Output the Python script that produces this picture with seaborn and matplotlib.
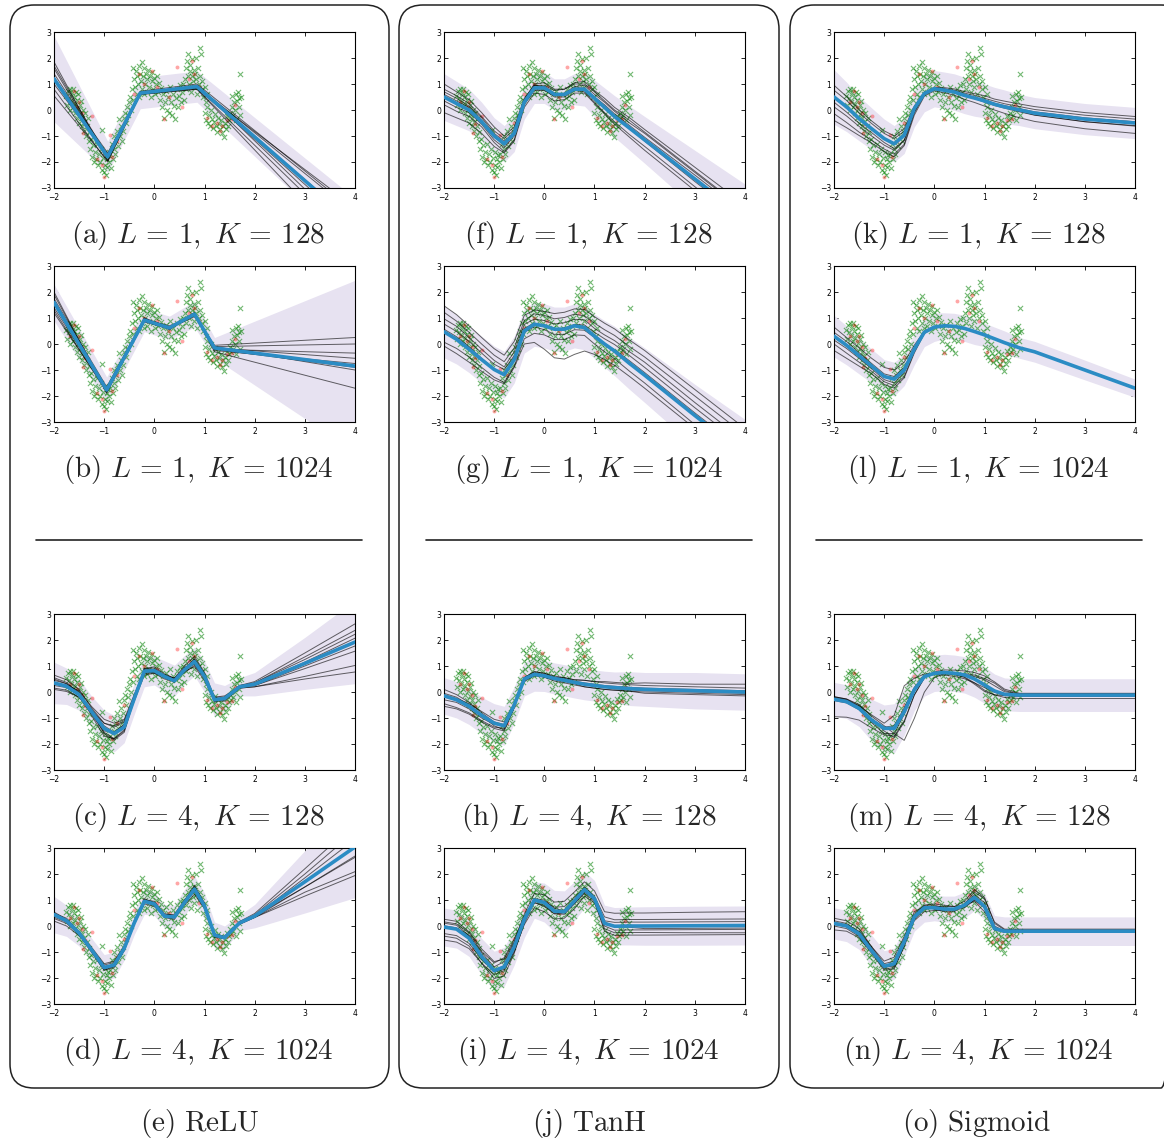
import numpy as np
import pandas as pd
import matplotlib
matplotlib.use("Agg")
import matplotlib.pyplot as plt
from matplotlib.patches import FancyBboxPatch
import seaborn as sns

# ---- observations (the same in every panel) ----
green_pts = [
    (-1.76, 0.55), (-1.74, 0.2), (-1.72, 0.75), (-1.70, 0.45), (-1.69, 0.0), (-1.68, 0.8),
    (-1.66, 0.3), (-1.65, 0.65), (-1.63, 0.1), (-1.62, 0.8), (-1.60, 0.5), (-1.59, -0.1),
    (-1.58, 0.25), (-1.57, 0.7), (-1.55, 0.4), (-1.54, -0.3), (-1.53, 0.05), (-1.52, 0.6),
    (-1.50, -0.5), (-1.49, 0.2), (-1.48, -0.15), (-1.46, 0.35), (-1.45, -0.6), (-1.44, -0.3),
    (-1.42, 0.0), (-1.41, -0.8), (-1.40, -0.45), (-1.38, -0.1), (-1.37, -1.0), (-1.35, -0.6),
    (-1.33, -0.3), (-1.31, -1.2), (-1.30, -0.85),
    (-1.28, -1.5), (-1.26, -1.1), (-1.24, -1.8), (-1.22, -1.35), (-1.20, -2.0), (-1.18, -1.6),
    (-1.16, -1.9), (-1.14, -1.3), (-1.12, -2.1), (-1.10, -1.7), (-1.08, -2.0), (-1.06, -1.5),
    (-1.04, -2.3), (-1.02, -1.85), (-1.00, -2.4), (-0.99, -2.1), (-0.98, -1.6), (-0.97, -2.5),
    (-0.95, -1.9), (-0.94, -2.2), (-0.92, -1.75), (-0.90, -2.0), (-1.05, -0.77),
    (-0.88, -1.7), (-0.86, -2.25), (-0.85, -1.3), (-0.83, -1.9), (-0.81, -1.5), (-0.80, -1.0),
    (-0.78, -1.7), (-0.76, -1.2), (-0.74, -0.8), (-0.72, -1.4), (-0.70, -0.35), (-0.68, -1.0),
    (-0.66, -0.6), (-0.64, -1.2), (-0.62, -0.8), (-0.60, -0.3), (-0.58, -0.1), (-0.56, -0.5),
    (-0.54, 0.1), (-0.52, -0.2), (-0.50, 0.3), (-0.48, 0.5), (-0.46, 0.0),
    (-0.44, 0.8), (-0.43, 1.6), (-0.42, 0.4), (-0.40, 1.2), (-0.38, 0.9), (-0.37, 1.5),
    (-0.35, 0.6), (-0.34, 1.3), (-0.32, 1.0), (-0.31, 1.7), (-0.30, 0.5), (-0.28, 1.4),
    (-0.27, 1.1), (-0.25, 0.8), (-0.24, 1.85), (-0.22, 1.3), (-0.21, 0.6), (-0.20, 1.6),
    (-0.18, 1.0), (-0.17, 1.4), (-0.15, 0.7), (-0.14, 1.2), (-0.12, 1.55), (-0.10, 0.9),
    (-0.09, 1.3), (-0.07, 0.5), (-0.05, 1.1), (-0.04, 1.45), (-0.02, 0.8), (0.00, 1.25),
    (0.02, 0.6), (0.04, 1.0), (0.06, 1.3), (0.08, 0.7), (0.10, 1.05),
    (0.12, 0.4), (0.14, 0.85), (0.16, 0.1), (0.18, 0.6), (0.20, -0.3), (0.22, 0.3),
    (0.24, 0.75), (0.26, 0.0), (0.28, 0.5), (0.30, -0.1), (0.32, 0.9), (0.34, 0.3),
    (0.36, -0.2), (0.38, 0.6), (0.40, 0.15), (0.42, -0.35), (0.44, 0.45), (0.46, 0.8),
    (0.48, 0.1), (0.50, 0.55), (0.52, 0.95), (0.54, 0.3), (0.56, 0.7), (0.58, 1.0), (0.60, 0.4),
    (0.62, 1.2), (0.63, 1.6), (0.64, 0.8), (0.66, 1.9), (0.67, 1.3), (0.68, 2.15),
    (0.70, 1.0), (0.71, 1.5), (0.72, 1.75), (0.74, 0.7), (0.75, 1.3), (0.76, 1.95),
    (0.78, 1.1), (0.79, 1.55), (0.80, 0.9), (0.82, 1.4), (0.83, 2.0), (0.84, 1.2),
    (0.86, 0.6), (0.88, 1.6), (0.90, 1.0), (0.91, 2.4), (0.92, 1.3), (0.93, 2.15),
    (0.95, 0.8), (0.96, 1.1), (0.98, 0.5), (1.00, 0.9), (1.02, 0.3), (1.04, 0.6),
    (1.00, -0.1), (1.02, -0.4), (1.04, 0.1), (1.06, -0.5), (1.08, -0.2), (1.10, -0.6),
    (1.12, 0.0), (1.14, -0.35), (1.16, -0.7), (1.18, -0.45), (1.20, -0.15), (1.22, -0.6),
    (1.24, -0.85), (1.26, -0.3), (1.28, -0.55), (1.30, -0.75), (1.32, -0.4), (1.34, -0.9),
    (1.36, -0.6), (1.38, -1.05), (1.40, -0.5), (1.42, -0.75), (1.44, -0.25), (1.46, -0.6),
    (1.48, -0.4), (1.50, -0.1),
    (1.52, -0.3), (1.54, 0.1), (1.55, 0.55), (1.57, -0.2), (1.58, 0.3), (1.60, 0.0),
    (1.62, 0.6), (1.63, -0.4), (1.65, 0.35), (1.66, 0.7), (1.68, 0.1), (1.69, 0.45),
    (1.70, -0.2), (1.71, 1.37), (1.72, 0.5),
]
red_pts = [
    (-1.68, 0.3), (-1.60, 0.75), (-1.55, 0.1), (-1.50, 0.3), (-1.45, -0.1), (-1.38, -0.55),
    (-1.24, -0.22), (-1.42, -0.9), (-1.15, -1.9), (-1.05, -2.1), (-1.00, -2.58), (-0.85, -1.8),
    (-0.88, -0.95), (-0.75, -1.2), (-0.60, -0.5), (-0.40, 0.6), (-0.30, 1.4), (-0.20, 1.0),
    (-0.05, 1.5), (0.05, 0.9), (0.20, -0.35), (0.30, 0.5), (0.45, 1.65), (0.55, 0.1),
    (0.70, 1.2), (0.75, 1.9), (0.80, 1.4), (0.90, 0.9), (1.05, -0.3), (1.15, -0.6),
    (1.25, -0.5), (1.30, -0.8), (1.35, -0.6), (1.45, -0.4), (1.55, -0.35), (1.60, 0.2),
]

# ---- x knots of the curves ----
grid = [-2, -1.75, -1.5, -1.25, -1.0, -0.8, -0.6, -0.4, -0.2, 0.0, 0.2,
        0.4, 0.6, 0.8, 1.0, 1.2, 1.4, 1.7, 2.0, 3.0, 4.0]
grid_a = [-2, -0.93, -0.28, 0.85, 4]
grid_b = [-2, -0.95, -0.2, 0.3, 0.8, 1.2, 4]

# ---- ReLU ----
mean_a = [1.2, -1.8, 0.65, 0.9, -4.4]
band_a = [1.65, 0.6, 0.6, 0.6, 1.0]
dev_a = [
    [0.65, -0.15, -0.03, -0.05, 0.65],
    [0.4, -0.05, 0.03, 0.02, 0.4],
    [0.2, 0.05, 0.05, -0.08, 0.1],
    [-0.2, 0.1, 0.01, -0.02, -0.2],
    [-0.65, -0.15, -0.05, -0.1, -1.2],
    [-0.4, -0.2, -0.01, 0.05, -0.5],
    [0.5, 0.0, 0.07, 0.1, 0.5],
    [0.05, 0.15, -0.05, -0.1, -0.7],
]

mean_b = [1.6, -1.77, 0.92, 0.62, 1.15, -0.15, -0.85]
band_b = [0.7, 0.5, 0.45, 0.45, 0.5, 0.4, 3.3]
dev_b = [
    [0.3, -0.05, -0.05, -0.05, -0.05, 0.1, 1.1],
    [0.0, 0.07, 0.08, 0.03, 0.05, 0.05, 0.85],
    [-0.3, -0.08, -0.02, -0.02, 0.0, -0.05, 0.5],
    [0.15, 0.12, 0.03, 0.08, -0.05, 0.0, 0.3],
    [-0.2, 0.02, 0.08, -0.07, 0.05, -0.1, 0.1],
    [-0.4, -0.03, -0.07, -0.02, -0.1, 0.05, -0.15],
    [-0.05, 0.07, 0.03, 0.03, 0.0, -0.15, -0.85],
    [0.4, -0.13, 0.03, -0.02, 0.05, -0.05, -0.05],
]

mean_c = [0.35, 0.22, -0.1, -0.76, -1.4, -1.6, -1.35, -0.25, 0.8, 0.82, 0.6,
          0.43, 0.85, 1.17, 0.6, -0.3, -0.25, 0.2, 0.3, 1.1, 1.92]
band_c = [0.8, 0.7, 0.6, 0.6, 0.7, 0.7, 0.6, 0.6, 0.6, 0.55, 0.6,
          0.6, 0.55, 0.55, 0.6, 0.65, 0.5, 0.35, 0.45, 1.0, 1.6]
dev_c = [
    [0.3, 0.25, 0.2, 0.15, 0.2, 0.25, 0.2, 0.1, 0.1, 0.15, 0.1, 0.1, 0.15, 0.2, 0.15, 0.1, 0.05, 0.05, 0.1, 0.4, 0.7],
    [0.2, 0.15, 0.05, -0.1, -0.15, -0.2, -0.1, 0.05, 0.05, 0.0, 0.05, 0.1, 0.05, 0.0, 0.05, 0.0, 0.05, 0.05, 0.05, 0.25, 0.45],
    [-0.2, -0.15, -0.1, 0.05, 0.2, 0.3, 0.25, 0.0, -0.1, -0.05, 0.0, 0.05, -0.1, -0.15, -0.05, 0.05, 0.0, 0.0, 0.05, 0.15, 0.3],
    [0.1, 0.1, 0.1, 0.0, -0.2, -0.25, -0.2, -0.05, 0.05, 0.05, -0.05, -0.05, 0.0, 0.1, 0.1, -0.05, -0.05, 0.0, 0.0, 0.05, 0.15],
    [-0.1, -0.05, 0.0, 0.1, 0.1, 0.05, 0.1, 0.1, -0.05, -0.1, -0.1, 0.0, 0.1, -0.05, -0.1, -0.1, 0.05, 0.0, -0.05, -0.1, -0.15],
    [0.0, 0.05, 0.15, 0.2, 0.35, 0.4, 0.3, 0.15, 0.0, -0.05, 0.05, 0.1, 0.0, -0.1, 0.0, 0.1, 0.1, 0.0, -0.05, -0.2, -0.35],
    [-0.25, -0.2, -0.1, -0.05, -0.1, 0.05, 0.1, -0.1, -0.15, -0.1, 0.0, 0.05, -0.05, -0.2, -0.15, 0.0, -0.05, -0.05, -0.1, -0.5, -0.9],
    [0.15, 0.1, 0.0, -0.15, -0.3, -0.2, -0.15, 0.0, 0.1, 0.1, 0.05, -0.05, 0.05, 0.1, 0.05, -0.05, -0.1, -0.05, -0.1, -0.6, -1.15],
]

mean_d = [0.44, 0.2, -0.27, -0.92, -1.6, -1.5, -0.86, 0.12, 0.95, 0.85, 0.38,
          0.35, 0.9, 1.42, 0.77, -0.35, -0.45, 0.12, 0.38, 1.7, 3.04]
band_d = [0.7, 0.6, 0.5, 0.45, 0.5, 0.5, 0.45, 0.45, 0.5, 0.45, 0.45,
          0.45, 0.5, 0.5, 0.5, 0.5, 0.45, 0.3, 0.45, 1.2, 1.95]
dev_d = [
    [0.1, 0.05, 0.0, 0.05, 0.1, 0.1, 0.05, 0.0, 0.05, 0.1, 0.1, 0.05, 0.05, 0.15, 0.1, 0.05, 0.0, 0.05, 0.1, 0.5, 0.9],
    [-0.25, -0.2, -0.1, 0.0, 0.05, 0.0, -0.05, 0.05, 0.0, -0.05, 0.0, 0.05, 0.0, -0.1, -0.05, 0.0, 0.05, 0.0, -0.05, -0.55, -1.1],
    [0.05, 0.1, 0.05, -0.05, -0.1, -0.1, 0.0, 0.05, 0.1, 0.05, -0.05, -0.05, 0.05, 0.1, 0.0, -0.05, -0.05, 0.0, 0.05, 0.3, 0.6],
    [-0.1, -0.05, 0.0, 0.05, 0.0, -0.05, -0.1, -0.05, -0.1, -0.1, 0.0, 0.0, -0.1, -0.2, -0.1, 0.05, 0.0, -0.05, -0.05, -0.2, -0.4],
    [0.0, 0.0, 0.05, 0.1, 0.15, 0.15, 0.1, 0.0, -0.05, 0.0, 0.05, 0.1, 0.1, 0.0, -0.05, -0.1, 0.0, 0.05, 0.0, 0.15, 0.3],
    [-0.15, -0.1, -0.05, 0.0, -0.05, -0.05, 0.0, 0.0, 0.05, 0.05, -0.05, -0.1, -0.05, 0.05, 0.1, 0.05, 0.05, -0.05, -0.05, -0.4, -0.95],
    [0.05, 0.0, -0.05, -0.1, -0.1, -0.05, 0.05, 0.1, 0.0, -0.05, 0.0, 0.05, 0.0, -0.05, -0.1, -0.05, 0.05, 0.05, 0.0, -0.2, -0.35],
]

# ---- TanH ----
mean_f = [0.5, 0.25, 0.0, -0.45, -1.0, -1.3, -0.9, 0.3, 0.85, 0.85, 0.6,
          0.6, 0.8, 0.8, 0.45, 0.1, -0.25, -0.7, -1.15, -2.65, -4.15]
band_f = [0.9, 0.85, 0.8, 0.75, 0.7, 0.7, 0.7, 0.65, 0.6, 0.6, 0.6,
          0.6, 0.6, 0.65, 0.7, 0.75, 0.8, 0.85, 0.9, 1.1, 1.3]
dev_f = [
    [0.5, 0.45, 0.4, 0.35, 0.35, 0.3, 0.25, 0.15, 0.1, 0.1, 0.15, 0.2, 0.25, 0.3, 0.3, 0.35, 0.35, 0.4, 0.4, 0.45, 0.5],
    [0.3, 0.3, 0.25, 0.2, 0.2, 0.2, 0.15, 0.1, 0.15, 0.2, 0.2, 0.2, 0.2, 0.2, 0.25, 0.25, 0.25, 0.3, 0.3, 0.3, 0.3],
    [-0.3, -0.3, -0.25, -0.2, -0.25, -0.3, -0.25, -0.1, -0.05, -0.05, -0.1, -0.1, -0.05, -0.1, -0.15, -0.2, -0.2, -0.25, -0.25, -0.3, -0.3],
    [-0.6, -0.55, -0.5, -0.45, -0.4, -0.35, -0.3, -0.2, -0.2, -0.25, -0.25, -0.2, -0.15, -0.15, -0.2, -0.25, -0.3, -0.35, -0.4, -0.45, -0.5],
    [0.1, 0.1, 0.1, 0.05, 0.0, -0.05, 0.0, 0.05, 0.1, 0.05, 0.0, 0.0, 0.05, 0.05, 0.05, 0.1, 0.1, 0.1, 0.1, 0.15, 0.15],
    [-0.15, -0.15, -0.1, -0.1, -0.15, -0.15, -0.1, 0.0, 0.0, 0.05, 0.05, 0.0, -0.05, 0.0, 0.05, 0.05, 0.0, 0.0, -0.05, -0.1, -0.1],
    [0.2, 0.2, 0.15, 0.15, 0.1, 0.1, 0.05, -0.05, -0.1, -0.1, -0.05, 0.05, 0.1, 0.15, 0.15, 0.2, 0.2, 0.2, 0.25, 0.25, 0.25],
]

mean_g = [0.47, 0.18, -0.2, -0.6, -0.98, -1.18, -0.6, 0.5, 0.76, 0.7, 0.57,
          0.57, 0.7, 0.63, 0.3, 0.0, -0.27, -0.75, -1.2, -2.75, -4.25]
band_g = [1.0, 0.95, 0.9, 0.9, 0.9, 0.9, 0.9, 0.85, 0.85, 0.85, 0.85,
          0.85, 0.85, 0.85, 0.85, 0.9, 0.95, 1.0, 1.05, 1.2, 1.35]
dev_g = [
    [1.0, 0.95, 0.9, 0.85, 0.8, 0.75, 0.7, 0.6, 0.55, 0.55, 0.6, 0.65, 0.65, 0.7, 0.75, 0.8, 0.85, 0.9, 0.95, 1.0, 1.0],
    [0.75, 0.7, 0.65, 0.6, 0.55, 0.5, 0.45, 0.4, 0.4, 0.4, 0.4, 0.45, 0.45, 0.45, 0.5, 0.55, 0.6, 0.65, 0.7, 0.75, 0.75],
    [0.5, 0.5, 0.45, 0.4, 0.35, 0.3, 0.3, 0.25, 0.2, 0.2, 0.2, 0.25, 0.25, 0.3, 0.3, 0.35, 0.4, 0.45, 0.5, 0.5, 0.5],
    [0.3, 0.3, 0.3, 0.25, 0.2, 0.2, 0.15, 0.1, 0.05, 0.0, 0.0, 0.05, 0.05, 0.1, 0.15, 0.2, 0.25, 0.3, 0.3, 0.3, 0.3],
    [0.1, 0.1, 0.1, 0.05, 0.0, 0.0, 0.0, -0.05, -0.1, -0.15, -0.2, -0.2, -0.15, -0.1, -0.05, 0.0, 0.05, 0.1, 0.1, 0.1, 0.1],
    [-0.4, -0.35, -0.3, -0.3, -0.3, -0.3, -0.25, -0.3, -0.35, -0.35, -0.4, -0.4, -0.35, -0.3, -0.3, -0.3, -0.3, -0.3, -0.3, -0.35, -0.4],
    [-0.55, -0.55, -0.5, -0.45, -0.4, -0.35, -0.3, -0.5, -0.7, -0.9, -1.1, -1.15, -1.1, -0.9, -0.7, -0.6, -0.55, -0.5, -0.5, -0.5, -0.5],
]

mean_h = [-0.15, -0.3, -0.55, -0.9, -1.2, -1.3, -0.5, 0.5, 0.68, 0.62, 0.52,
          0.45, 0.37, 0.3, 0.25, 0.2, 0.17, 0.13, 0.1, 0.05, 0.0]
band_h = [0.7, 0.7, 0.7, 0.7, 0.75, 0.75, 0.7, 0.65, 0.65, 0.6, 0.6,
          0.6, 0.6, 0.6, 0.6, 0.6, 0.6, 0.65, 0.65, 0.7, 0.7]
dev_h = [
    [0.25, 0.2, 0.15, 0.1, 0.05, 0.05, 0.1, 0.05, 0.05, 0.05, 0.05, 0.1, 0.1, 0.15, 0.15, 0.2, 0.2, 0.2, 0.25, 0.25, 0.3],
    [-0.3, -0.3, -0.25, -0.2, -0.15, -0.1, -0.1, 0.0, 0.0, -0.05, -0.05, -0.05, -0.05, -0.1, -0.1, -0.1, -0.1, -0.1, -0.1, -0.1, -0.1],
    [0.1, 0.1, 0.05, 0.0, -0.1, -0.15, -0.05, 0.05, 0.1, 0.1, 0.05, 0.05, 0.05, 0.05, 0.05, 0.05, 0.05, 0.05, 0.05, 0.05, 0.05],
    [-0.15, -0.1, -0.1, -0.1, -0.05, 0.05, 0.0, -0.05, -0.05, -0.05, -0.1, -0.1, -0.1, -0.1, -0.1, -0.1, -0.1, -0.1, -0.15, -0.15, -0.15],
    [0.05, 0.05, 0.1, 0.15, 0.15, 0.15, 0.05, -0.1, -0.05, 0.0, 0.0, 0.0, 0.0, 0.0, 0.0, 0.0, -0.05, -0.05, -0.05, -0.05, -0.05],
    [-0.4, -0.35, -0.3, -0.25, -0.2, -0.2, -0.1, 0.05, 0.1, 0.1, 0.1, 0.1, 0.1, 0.15, 0.15, 0.15, 0.15, 0.15, 0.15, 0.15, 0.15],
]

mean_i = [-0.04, -0.12, -0.47, -1.18, -1.72, -1.57, -0.8, 0.25, 1.0, 0.9, 0.57,
          0.55, 0.96, 1.4, 1.05, 0.1, -0.01, 0.0, 0.0, 0.01, 0.02]
band_i = [0.73, 0.73, 0.7, 0.7, 0.75, 0.75, 0.7, 0.7, 0.7, 0.75, 0.8,
          0.8, 0.75, 0.7, 0.7, 0.7, 0.72, 0.73, 0.74, 0.75, 0.75]
dev_i = [
    [0.3, 0.3, 0.25, 0.3, 0.35, 0.3, 0.2, 0.2, 0.25, 0.3, 0.35, 0.4, 0.35, 0.3, 0.3, 0.45, 0.5, 0.5, 0.5, 0.52, 0.53],
    [0.15, 0.15, 0.1, 0.05, 0.0, 0.05, 0.1, 0.1, 0.05, 0.0, 0.0, 0.05, 0.05, 0.1, 0.1, 0.25, 0.25, 0.25, 0.25, 0.25, 0.25],
    [-0.25, -0.25, -0.2, -0.1, -0.05, -0.1, -0.15, -0.2, -0.3, -0.35, -0.3, -0.25, -0.3, -0.25, -0.15, -0.2, -0.25, -0.25, -0.25, -0.27, -0.28],
    [-0.5, -0.5, -0.4, -0.25, -0.15, -0.15, -0.2, -0.15, -0.1, -0.1, -0.1, -0.1, -0.1, -0.15, -0.1, -0.3, -0.35, -0.35, -0.35, -0.35, -0.35],
    [0.05, 0.05, 0.1, 0.15, 0.15, 0.2, 0.15, 0.05, 0.0, 0.05, 0.15, 0.2, 0.15, 0.05, 0.0, 0.1, 0.15, 0.15, 0.15, 0.15, 0.15],
    [-0.35, -0.35, -0.3, -0.25, -0.3, -0.35, -0.25, -0.1, 0.05, 0.1, 0.1, 0.05, 0.0, -0.05, -0.05, -0.1, -0.15, -0.15, -0.15, -0.15, -0.15],
    [0.2, 0.2, 0.2, 0.2, 0.3, 0.35, 0.3, 0.1, -0.1, -0.15, -0.1, -0.05, -0.1, -0.1, 0.0, 0.05, 0.0, -0.05, -0.1, -0.1, -0.1],
]

# ---- Sigmoid ----
mean_k = [0.5, 0.12, -0.33, -0.72, -1.1, -1.3, -0.97, 0.05, 0.63, 0.82, 0.76,
          0.69, 0.56, 0.46, 0.35, 0.22, 0.12, 0.0, -0.12, -0.35, -0.5]
band_k = [1.05, 0.95, 0.85, 0.8, 0.75, 0.7, 0.7, 0.7, 0.7, 0.7, 0.7,
          0.7, 0.7, 0.7, 0.65, 0.65, 0.65, 0.6, 0.6, 0.6, 0.6]
dev_k = [
    [0.45, 0.4, 0.35, 0.3, 0.3, 0.3, 0.25, 0.1, 0.05, 0.05, 0.1, 0.12, 0.15, 0.17, 0.2, 0.2, 0.22, 0.23, 0.25, 0.25, 0.25],
    [0.26, 0.25, 0.22, 0.2, 0.2, 0.2, 0.15, 0.05, 0.0, 0.02, 0.05, 0.07, 0.09, 0.1, 0.1, 0.12, 0.12, 0.13, 0.14, 0.15, 0.15],
    [-0.38, -0.35, -0.3, -0.28, -0.25, -0.25, -0.2, -0.1, -0.05, -0.02, 0.0, 0.0, 0.0, 0.02, 0.03, 0.04, 0.05, 0.05, 0.05, 0.05, 0.05],
    [-0.64, -0.6, -0.52, -0.45, -0.4, -0.4, -0.35, -0.15, 0.0, 0.03, 0.05, 0.05, 0.04, 0.03, 0.02, 0.0, -0.02, -0.05, -0.07, -0.1, -0.12],
    [-0.9, -0.8, -0.65, -0.55, -0.5, -0.5, -0.4, -0.25, -0.1, -0.08, -0.1, -0.12, -0.15, -0.17, -0.2, -0.22, -0.25, -0.3, -0.32, -0.37, -0.4],
    [-0.2, -0.2, -0.18, -0.15, -0.15, -0.18, -0.2, -0.15, -0.05, 0.0, 0.0, 0.0, 0.0, -0.02, -0.05, -0.05, -0.05, -0.07, -0.08, -0.1, -0.1],
]

mean_l = [0.3, -0.05, -0.45, -0.85, -1.25, -1.35, -1.0, -0.2, 0.45, 0.65, 0.7,
          0.68, 0.6, 0.48, 0.35, 0.2, 0.05, -0.15, -0.3, -1.0, -1.7]
band_l = [0.8, 0.75, 0.7, 0.65, 0.65, 0.65, 0.6, 0.6, 0.55, 0.55, 0.5,
          0.5, 0.5, 0.5, 0.45, 0.45, 0.45, 0.4, 0.4, 0.38, 0.35]
dev_l = [
    [0.35, 0.3, 0.3, 0.3, 0.35, 0.35, 0.3, 0.15, 0.05, 0.02, 0.0, 0.0, 0.0, 0.0, 0.0, 0.0, 0.0, 0.0, 0.0, 0.0, 0.0],
    [-0.3, -0.3, -0.25, -0.2, -0.2, -0.25, -0.25, -0.1, -0.02, 0.0, 0.0, 0.0, 0.0, 0.0, 0.0, 0.0, 0.0, 0.0, 0.0, 0.0, 0.0],
    [-0.55, -0.5, -0.4, -0.3, -0.3, -0.35, -0.3, -0.15, -0.05, -0.02, 0.0, 0.0, 0.0, 0.0, 0.0, 0.0, 0.0, 0.0, 0.0, 0.0, -0.02],
    [0.15, 0.15, 0.12, 0.1, 0.1, 0.1, 0.1, 0.05, 0.02, 0.0, 0.0, 0.0, 0.0, 0.0, 0.0, 0.0, 0.0, 0.0, 0.0, 0.0, 0.02],
    [-0.15, -0.12, -0.1, -0.1, -0.12, -0.15, -0.1, 0.05, 0.03, 0.02, 0.02, 0.0, 0.0, 0.0, 0.0, 0.0, 0.0, 0.0, 0.0, 0.0, 0.0],
]

mean_m = [-0.28, -0.37, -0.63, -1.08, -1.4, -1.4, -0.76, 0.08, 0.59, 0.72, 0.75,
          0.72, 0.66, 0.5, 0.27, 0.04, -0.09, -0.12, -0.12, -0.12, -0.12]
band_m = [0.65, 0.65, 0.7, 0.8, 0.9, 0.95, 0.9, 0.8, 0.75, 0.7, 0.7,
          0.7, 0.7, 0.7, 0.7, 0.65, 0.63, 0.63, 0.63, 0.63, 0.63]
dev_m = [
    [0.1, 0.1, 0.15, 0.15, 0.1, -0.2, -1.1, -1.1, -0.6, -0.17, -0.05, 0.0, 0.05, 0.15, 0.25, 0.3, 0.15, 0.02, 0.02, 0.02, 0.02],
    [0.05, 0.05, 0.1, 0.2, 0.2, 0.5, 1.0, 0.45, 0.1, 0.0, -0.05, -0.05, -0.1, -0.2, -0.25, -0.15, -0.05, 0.0, 0.0, 0.0, 0.0],
    [-0.67, -0.6, -0.45, -0.3, -0.25, -0.3, -0.35, -0.2, -0.05, 0.0, 0.0, 0.0, 0.0, 0.1, 0.2, 0.2, 0.1, 0.05, 0.05, 0.05, 0.05],
    [0.1, 0.1, 0.1, 0.05, -0.1, -0.35, -0.4, -0.2, -0.05, 0.05, 0.1, 0.12, 0.15, 0.25, 0.35, 0.35, 0.2, 0.07, 0.07, 0.07, 0.07],
    [-0.05, -0.05, -0.05, -0.1, -0.2, -0.2, -0.1, 0.0, 0.0, -0.05, -0.1, -0.12, -0.15, -0.15, -0.1, -0.05, -0.05, -0.05, -0.05, -0.05, -0.05],
    [0.08, 0.08, 0.05, 0.0, 0.05, 0.1, 0.15, 0.1, 0.05, 0.02, -0.02, -0.05, -0.08, -0.15, -0.2, -0.15, -0.12, -0.13, -0.13, -0.13, -0.13],
]

mean_n = [0.1, 0.0, -0.3, -0.95, -1.55, -1.45, -0.6, 0.35, 0.7, 0.7, 0.65,
          0.65, 0.8, 1.1, 0.75, -0.1, -0.2, -0.2, -0.2, -0.2, -0.2]
band_n = [0.6, 0.6, 0.6, 0.6, 0.6, 0.6, 0.55, 0.55, 0.55, 0.5, 0.5,
          0.5, 0.5, 0.5, 0.5, 0.5, 0.55, 0.55, 0.55, 0.55, 0.55]
dev_n = [
    [0.2, 0.2, 0.2, 0.15, 0.1, 0.1, 0.1, 0.05, 0.0, 0.05, 0.1, 0.1, 0.15, 0.3, 0.35, 0.2, 0.05, 0.05, 0.05, 0.05, 0.05],
    [-0.25, -0.2, -0.15, -0.1, -0.15, -0.2, -0.15, -0.1, -0.05, 0.0, 0.0, -0.05, -0.1, -0.1, -0.05, -0.05, -0.05, -0.05, -0.05, -0.05, -0.05],
    [0.05, 0.05, 0.1, 0.15, 0.2, 0.25, 0.2, 0.1, 0.1, 0.1, 0.05, 0.0, -0.05, -0.1, 0.0, 0.1, 0.0, 0.0, 0.0, 0.0, 0.0],
    [-0.1, -0.1, -0.1, -0.05, -0.05, -0.05, 0.0, -0.15, -0.15, -0.1, -0.05, 0.0, 0.05, 0.1, 0.15, 0.05, -0.03, -0.03, -0.03, -0.03, -0.03],
    [0.1, 0.1, 0.05, 0.0, -0.1, -0.15, -0.2, -0.05, 0.1, 0.15, 0.15, 0.1, 0.0, -0.15, -0.2, -0.05, 0.02, 0.02, 0.02, 0.02, 0.02],
    [-0.05, 0.0, 0.05, 0.1, 0.0, -0.1, 0.05, 0.2, 0.05, -0.05, -0.1, -0.1, 0.05, 0.2, 0.3, 0.25, 0.08, 0.08, 0.08, 0.08, 0.08],
]

col_titles = ["(e)\\ ReLU", "(j)\\ TanH", "(o)\\ Sigmoid"]
panel_letters = [["a", "b", "c", "d"], ["f", "g", "h", "i"], ["k", "l", "m", "n"]]
panel_LK = [("1", "128"), ("1", "1024"), ("4", "128"), ("4", "1024")]

curves = {
    "a": (grid_a, mean_a, band_a, dev_a), "b": (grid_b, mean_b, band_b, dev_b),
    "c": (grid, mean_c, band_c, dev_c), "d": (grid, mean_d, band_d, dev_d),
    "f": (grid, mean_f, band_f, dev_f), "g": (grid, mean_g, band_g, dev_g),
    "h": (grid, mean_h, band_h, dev_h), "i": (grid, mean_i, band_i, dev_i),
    "k": (grid, mean_k, band_k, dev_k), "l": (grid, mean_l, band_l, dev_l),
    "m": (grid, mean_m, band_m, dev_m), "n": (grid, mean_n, band_n, dev_n),
}

BAND = "#e7e2f1"
BLUE = "#2b8cc4"

sns.set_theme(style="ticks")
plt.rcParams["font.family"] = ["DejaVu Sans"]
plt.rcParams["mathtext.fontset"] = "cm"
plt.rcParams["axes.unicode_minus"] = True

W, H = 1164, 1142
fig = plt.figure(figsize=(W / 100, H / 100), dpi=100)

gx = [p[0] for p in green_pts]
gy = [p[1] for p in green_pts]
rx = [p[0] for p in red_pts]
ry = [p[1] for p in red_pts]


def draw_panel(ax, xs, mean, band, devs):
    assert len(xs) == len(mean) == len(band)
    xs = np.array(xs, dtype=float)
    mean = np.array(mean)
    band = np.array(band)
    ax.fill_between(xs, mean - band, mean + band, color=BAND, lw=0, zorder=1)
    sns.scatterplot(x=gx, y=gy, marker="x", color="green", s=14, linewidth=0.8,
                    alpha=0.55, ax=ax, zorder=2)
    sns.scatterplot(x=rx, y=ry, marker="o", color="red", s=8, linewidth=0,
                    alpha=0.35, ax=ax, zorder=2)
    rows = []
    for k, d in enumerate(devs):
        assert len(d) == len(xs)
        for x, m, o in zip(xs, mean, d):
            rows.append((k, x, m + o))
    df = pd.DataFrame(rows, columns=["sample", "x", "y"])
    sns.lineplot(data=df, x="x", y="y", units="sample", estimator=None,
                 color="black", lw=0.7, alpha=0.6, ax=ax, zorder=3)
    sns.lineplot(x=xs, y=mean, color=BLUE, lw=2.6, ax=ax, zorder=4)
    ax.set_xlim(-2, 4)
    ax.set_ylim(-3, 3)
    ax.set_xlabel("")
    ax.set_ylabel("")
    ax.set_xticks(range(-2, 5))
    ax.set_yticks(range(-3, 4))
    ax.tick_params(direction="in", top=True, right=True, length=3, width=0.6,
                   labelsize=5.5, colors="black")
    ax.tick_params(axis="x", pad=3.5)
    ax.tick_params(axis="y", pad=2)
    for sp in ax.spines.values():
        sp.set_visible(True)
        sp.set_linewidth(0.8)
        sp.set_color("black")


col_left = [54, 444, 834]
row_top = [32, 266, 614, 848]
cap_y = [236, 469, 818, 1051]
aw, ah = 301, 156

for c in range(3):
    for r in range(4):
        letter = panel_letters[c][r]
        ax = fig.add_axes([col_left[c] / W, 1 - (row_top[r] + ah) / H, aw / W, ah / H])
        draw_panel(ax, *curves[letter])
        L, K = panel_LK[r]
        fig.text((col_left[c] + aw / 2 - 6) / W, 1 - cap_y[r] / H,
                 r"$\mathrm{(%s)}\ L\,=\,%s,\ K\,=\,%s$" % (letter, L, K),
                 ha="center", va="center", fontsize=21)

# frames, separators and column titles
over = fig.add_axes([0, 0, 1, 1], zorder=-1)
over.set_xlim(0, W)
over.set_ylim(H, 0)
over.axis("off")
box_x = [(10, 389), (399, 779), (790, 1185)]
for (x0, x1), title in zip(box_x, col_titles):
    over.add_patch(FancyBboxPatch((x0, 5), x1 - x0, 1083,
                                  boxstyle="round,pad=0,rounding_size=24",
                                  fill=False, ec="#222222", lw=1.1))
    over.text((x0 + x1) / 2 if x1 < W else 977, 1124, r"$\mathrm{%s}$" % title,
              ha="center", va="center", fontsize=21)
for x0 in [36, 426, 816]:
    over.plot([x0, x0 + 326], [540, 540], color="#222222", lw=1.2)

fig.savefig("out.png", dpi=100)
